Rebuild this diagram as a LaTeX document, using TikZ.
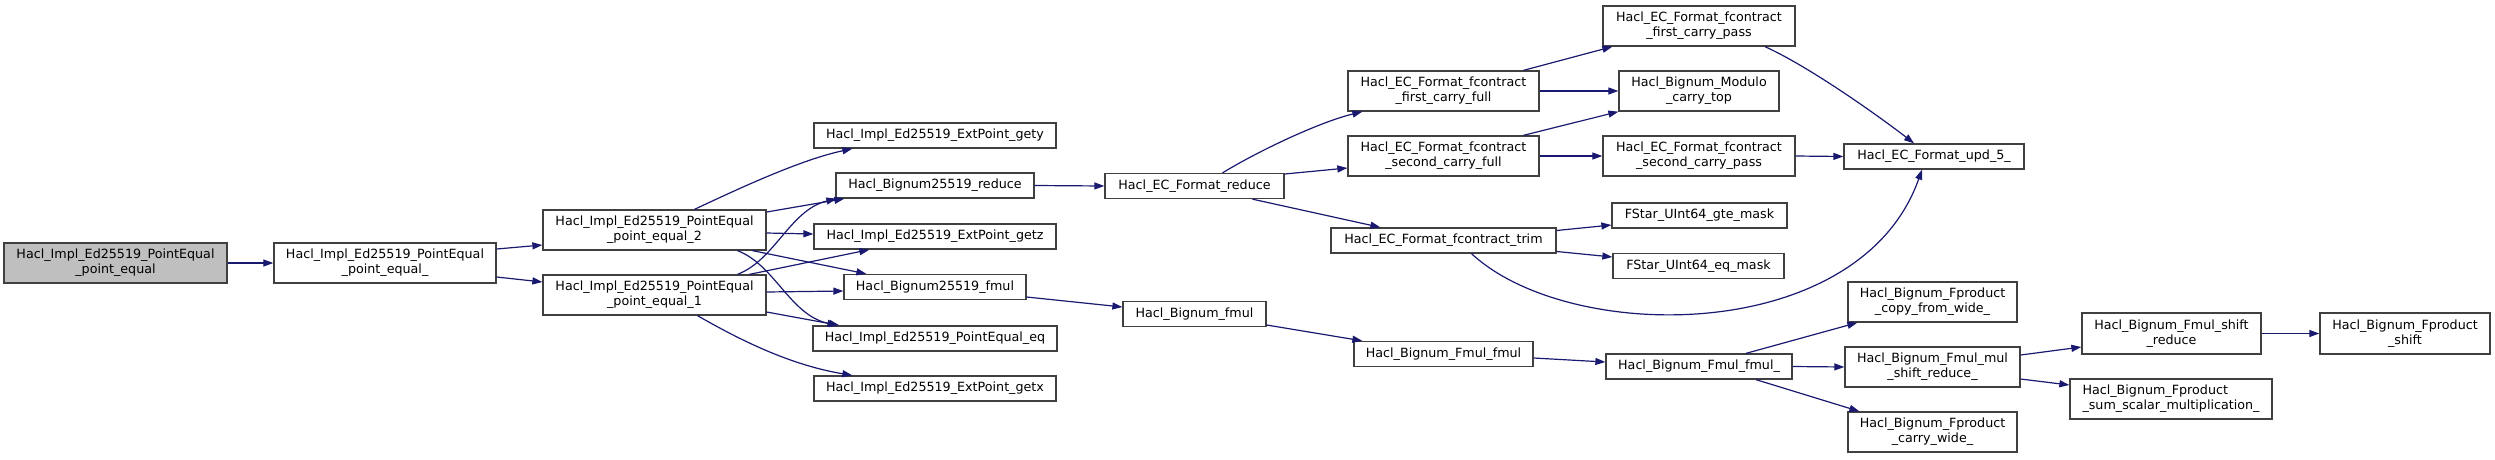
\documentclass[tikz,border=0pt]{standalone}
\usepackage{fontspec}
\setmainfont{DejaVu Sans}
\usetikzlibrary{arrows.meta}
\definecolor{edgec}{HTML}{191970}
\definecolor{boxc}{HTML}{404040}
\definecolor{rootc}{HTML}{BFBFBF}
\begin{document}
\begin{tikzpicture}[x=1pt,y=-1pt,
  box/.style={draw=boxc, line width=1.3pt, fill=white, inner sep=0pt, minimum height=25pt, align=center, font=\fontsize{12.7}{15}\selectfont},
  two/.style={minimum height=40pt},
  edge/.style={draw=edgec, line width=1.2pt, -{Triangle[length=10pt,width=7pt]}}]
\useasboundingbox (0,0) rectangle (2495,459);
% nodes
\node[box,two,fill=rootc,minimum width=223pt] (n0) at (115.5,263) {Hacl\_Impl\_Ed25519\_PointEqual\\\_point\_equal};
\node[box,two,minimum width=222pt] (n1) at (385,263) {Hacl\_Impl\_Ed25519\_PointEqual\\\_point\_equal\_};
\node[box,two,minimum width=223pt] (n2) at (654.5,230) {Hacl\_Impl\_Ed25519\_PointEqual\\\_point\_equal\_2};
\node[box,two,minimum width=223pt] (n3) at (654.5,295) {Hacl\_Impl\_Ed25519\_PointEqual\\\_point\_equal\_1};
\node[box,minimum width=242pt] (gety) at (935,135.5) {Hacl\_Impl\_Ed25519\_ExtPoint\_gety};
\node[box,minimum width=198pt] (bred) at (935,185.5) {Hacl\_Bignum25519\_reduce};
\node[box,minimum width=242pt] (getz) at (935,236.5) {Hacl\_Impl\_Ed25519\_ExtPoint\_getz};
\node[box,minimum width=182pt] (bfm) at (935,287) {Hacl\_Bignum25519\_fmul};
\node[box,minimum width=244pt] (eq) at (935,338.5) {Hacl\_Impl\_Ed25519\_PointEqual\_eq};
\node[box,minimum width=242pt] (getx) at (935,388.5) {Hacl\_Impl\_Ed25519\_ExtPoint\_getx};
\node[box,minimum width=179pt] (ecred) at (1194.5,186) {Hacl\_EC\_Format\_reduce};
\node[box,minimum width=143pt] (bnfmul) at (1194.5,314) {Hacl\_Bignum\_fmul};
\node[box,two,minimum width=191pt] (ff1) at (1443.5,91) {Hacl\_EC\_Format\_fcontract\\\_first\_carry\_full};
\node[box,two,minimum width=191pt] (ff2) at (1443.5,156) {Hacl\_EC\_Format\_fcontract\\\_second\_carry\_full};
\node[box,minimum width=225pt] (trim) at (1443.5,240.5) {Hacl\_EC\_Format\_fcontract\_trim};
\node[box,minimum width=179pt] (fmf) at (1443.5,354) {Hacl\_Bignum\_Fmul\_fmul};
\node[box,two,minimum width=192pt] (fp1) at (1699,26) {Hacl\_EC\_Format\_fcontract\\\_first\_carry\_pass};
\node[box,two,minimum width=160pt] (mct) at (1699,91) {Hacl\_Bignum\_Modulo\\\_carry\_top};
\node[box,two,minimum width=192pt] (fp2) at (1699,156) {Hacl\_EC\_Format\_fcontract\\\_second\_carry\_pass};
\node[box,minimum width=175pt] (gte) at (1699.5,215.5) {FStar\_UInt64\_gte\_mask};
\node[box,minimum width=171pt] (eqm) at (1698.5,266) {FStar\_UInt64\_eq\_mask};
\node[box,minimum width=186pt] (fmu) at (1699,366.5) {Hacl\_Bignum\_Fmul\_fmul\_};
\node[box,minimum width=180pt] (upd) at (1934,156.5) {Hacl\_EC\_Format\_upd\_5\_};
\node[box,two,minimum width=169pt] (cpw) at (1932.5,302) {Hacl\_Bignum\_Fproduct\\\_copy\_from\_wide\_};
\node[box,two,minimum width=175pt] (msr) at (1932.5,367) {Hacl\_Bignum\_Fmul\_mul\\\_shift\_reduce\_};
\node[box,two,minimum width=169pt] (cwd) at (1932.5,432) {Hacl\_Bignum\_Fproduct\\\_carry\_wide\_};
\node[box,two,minimum width=179pt,minimum height=41pt] (shr) at (2171.5,333.5) {Hacl\_Bignum\_Fmul\_shift\\\_reduce};
\node[box,two,minimum width=170pt,minimum height=41pt] (fps) at (2405,333.5) {Hacl\_Bignum\_Fproduct\\\_shift};
\node[box,two,minimum width=202pt,align=left] (ssm) at (2171,399) {Hacl\_Bignum\_Fproduct\\\_sum\_scalar\_multiplication\_};
% edges
\draw[edge] (n0.east) -- (n1.west);
\draw[edge] ([yshift=14pt]n1.east) -- ([yshift=-15pt]n2.west);
\draw[edge] ([yshift=-14pt]n1.east) -- ([yshift=13pt]n3.west);
\draw[edge] ([xshift=40pt]n2.north) .. controls (740,188) and (800,160) .. ([xshift=39pt]gety.south west);
\draw[edge] ([yshift=18pt]n2.east) -- ([xshift=9pt]bred.south west);
\draw[edge] ([yshift=-3pt]n2.east) -- ([yshift=2.5pt]getz.west);
\draw[edge] ([xshift=98pt]n2.south) -- ([xshift=23pt]bfm.north west);
\draw[edge] ([xshift=83pt]n2.south) .. controls (775,265) and (790,315) .. ([xshift=25pt]eq.north west);
\draw[edge] ([xshift=83pt]n3.north) .. controls (775,260) and (790,210) .. ([xshift=1pt]bred.south west);
\draw[edge] ([xshift=95pt]n3.north) -- ([xshift=56pt]getz.south west);
\draw[edge] ([yshift=3pt]n3.east) -- ([yshift=-4pt]bfm.west);
\draw[edge] ([yshift=-17pt]n3.east) -- ([xshift=27pt]eq.north west);
\draw[edge] ([xshift=43pt]n3.south) .. controls (740,340) and (790,365) .. ([xshift=39pt]getx.north west);
\draw[edge] (bred.east) -- (ecred.west);
\draw[edge] ([yshift=-10pt]bfm.east) -- ([yshift=7pt]bnfmul.west);
\draw[edge] ([xshift=28pt]ecred.north) .. controls (1260,150) and (1320,122) .. ([xshift=15pt]ff1.south west);
\draw[edge] ([yshift=12pt]ecred.east) -- ([yshift=-12pt]ff2.west);
\draw[edge] ([xshift=58pt]ecred.south) -- ([xshift=50pt]trim.north west);
\draw[edge] ([xshift=80pt]ff1.north) -- ([xshift=10pt]fp1.south west);
\draw[edge] (ff1.east) -- (mct.west);
\draw[edge] ([xshift=80pt]ff2.north) -- (mct.south west);
\draw[edge] (ff2.east) -- (fp2.west);
\draw[edge] ([xshift=66pt]fp1.south) .. controls (1810,67) and (1880,117) .. ([xshift=-20pt]upd.north);
\draw[edge] (fp2.east) -- (upd.west);
\draw[edge] ([yshift=10pt]trim.east) -- ([yshift=-9.5pt]gte.west);
\draw[edge] ([yshift=-11pt]trim.east) -- ([yshift=9pt]eqm.west);
\draw[edge] ([xshift=28pt]trim.south) .. controls (1570,345) and (1860,345) .. ([xshift=-12pt]upd.south);
\draw[edge] ([yshift=-11pt]bnfmul.east) -- ([xshift=9pt]fmf.north west);
\draw[edge] ([yshift=-4pt]fmf.east) -- ([yshift=4.5pt]fmu.west);
\draw[edge] ([xshift=47pt]fmu.north) -- ([xshift=10pt]cpw.south west);
\draw[edge] (fmu.east) -- (msr.west);
\draw[edge] ([xshift=57pt]fmu.south) -- ([xshift=12pt]cwd.north west);
\draw[edge] ([yshift=12pt]msr.east) -- ([yshift=-13.5pt]shr.west);
\draw[edge] ([yshift=-12pt]msr.east) -- ([yshift=14pt]ssm.west);
\draw[edge] (shr.east) -- (fps.west);
\end{tikzpicture}
\end{document}
